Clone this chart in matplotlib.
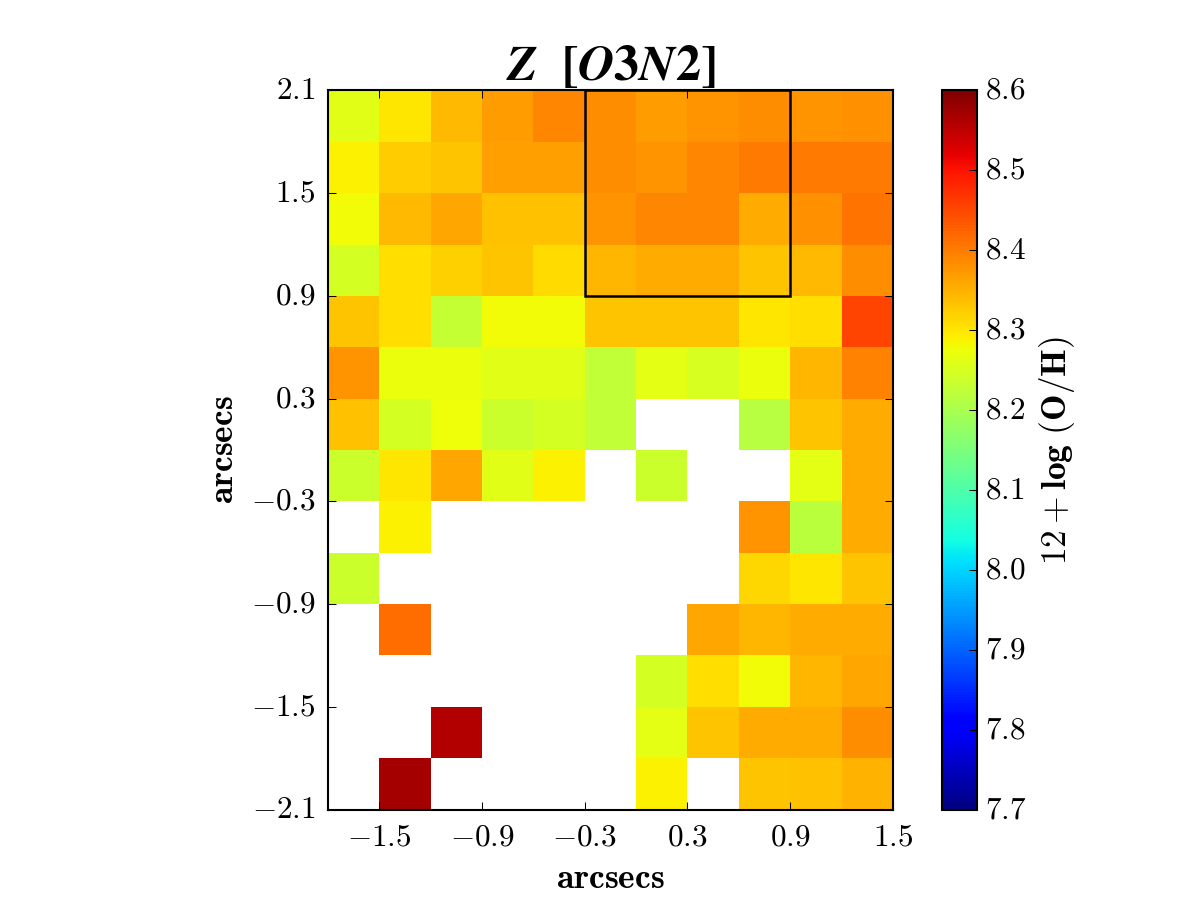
import numpy as np
import matplotlib as mpl
import matplotlib.pyplot as plt
from matplotlib.patches import Rectangle
mpl.style.use('classic')
from matplotlib import rcParams
rcParams.update({'font.size': 15, 'mathtext.fontset': 'cm',
                 'figure.facecolor': 'white', 'savefig.facecolor': 'white'})

nan = np.nan
# 12 + log(O/H), rows listed from top (y=+1.95) to bottom (y=-1.95)
z_o3n2 = [
    [8.26, 8.30, 8.34, 8.37, 8.39, 8.385, 8.37, 8.375, 8.385, 8.375, 8.38],
    [8.29, 8.325, 8.33, 8.365, 8.365, 8.385, 8.375, 8.39, 8.40, 8.40, 8.40],
    [8.28, 8.34, 8.36, 8.335, 8.335, 8.375, 8.39, 8.39, 8.355, 8.38, 8.41],
    [8.245, 8.305, 8.32, 8.33, 8.31, 8.345, 8.355, 8.355, 8.33, 8.34, 8.385],
    [8.33, 8.305, 8.23, 8.28, 8.28, 8.33, 8.33, 8.33, 8.30, 8.305, 8.455],
    [8.375, 8.27, 8.27, 8.26, 8.26, 8.225, 8.265, 8.25, 8.27, 8.345, 8.395],
    [8.335, 8.245, 8.275, 8.235, 8.245, 8.225, nan, nan, 8.215, 8.33, 8.355],
    [8.235, 8.30, 8.36, 8.26, 8.29, nan, 8.235, nan, nan, 8.265, 8.355],
    [nan, 8.29, nan, nan, nan, nan, nan, nan, 8.375, 8.22, 8.355],
    [8.235, nan, nan, nan, nan, nan, nan, nan, 8.315, 8.30, 8.33],
    [nan, 8.415, nan, nan, nan, nan, nan, 8.36, 8.345, 8.355, 8.355],
    [nan, nan, nan, nan, nan, nan, 8.245, 8.305, 8.28, 8.345, 8.36],
    [nan, nan, 8.56, nan, nan, nan, 8.265, 8.33, 8.355, 8.355, 8.385],
    [nan, 8.57, nan, nan, nan, nan, 8.29, nan, 8.33, 8.335, 8.35],
]
pix = 0.3
x0, y0 = -1.8, -2.1
xticks = [-1.5, -0.9, -0.3, 0.3, 0.9, 1.5]
yticks = [-2.1, -1.5, -0.9, -0.3, 0.3, 0.9, 1.5, 2.1]
cticks = [7.7, 7.8, 7.9, 8.0, 8.1, 8.2, 8.3, 8.4, 8.5, 8.6]
box = [-0.3, 0.9, 0.9, 2.1]   # x1, x2, y1, y2 of aperture

z = np.ma.masked_invalid(np.array(z_o3n2)[::-1])
ny, nx = z.shape
xe = x0 + pix * np.arange(nx + 1)
ye = y0 + pix * np.arange(ny + 1)

fig = plt.figure(figsize=(8, 6), dpi=150)
ax = fig.add_axes([0.2733, 0.1, 0.4708, 0.8])
im = ax.pcolormesh(xe, ye, z, cmap='jet', vmin=7.7, vmax=8.6)
ax.add_patch(Rectangle((box[0], box[2]), box[1] - box[0], box[3] - box[2],
                       fill=False, edgecolor='k', lw=1.2))
ax.set_xlim(xe[0], xe[-1])
ax.set_ylim(ye[0], ye[-1])
ax.set_aspect('equal')
ax.set_xticks(xticks)
ax.set_xticklabels([r'$%.1f$' % t for t in xticks])
ax.set_yticks(yticks)
ax.set_yticklabels([r'$%.1f$' % t for t in yticks])
ax.tick_params(labelsize=15, pad=6)
ax.set_xlabel(r'$\mathbf{arcsecs}$', fontsize=17)
ax.set_ylabel(r'$\mathbf{arcsecs}$', fontsize=17)
ax.set_title(r'$\mathbfit{Z}\ \ \mathbf{[}\mathbfit{O}\mathbf{3}\mathbfit{N}\mathbf{2]}$',
             fontsize=24, math_fontfamily='stix', y=1.0)

cax = fig.add_axes([0.785, 0.1, 0.029, 0.8])
cb = fig.colorbar(im, cax=cax, ticks=cticks)
cb.ax.set_yticklabels([r'$%.1f$' % t for t in cticks])
cb.ax.tick_params(labelsize=15, direction='in')
cb.set_label(r'$\mathbf{12 + log\ (O/H)}$', fontsize=17)

plt.savefig('out.png', dpi=150)
